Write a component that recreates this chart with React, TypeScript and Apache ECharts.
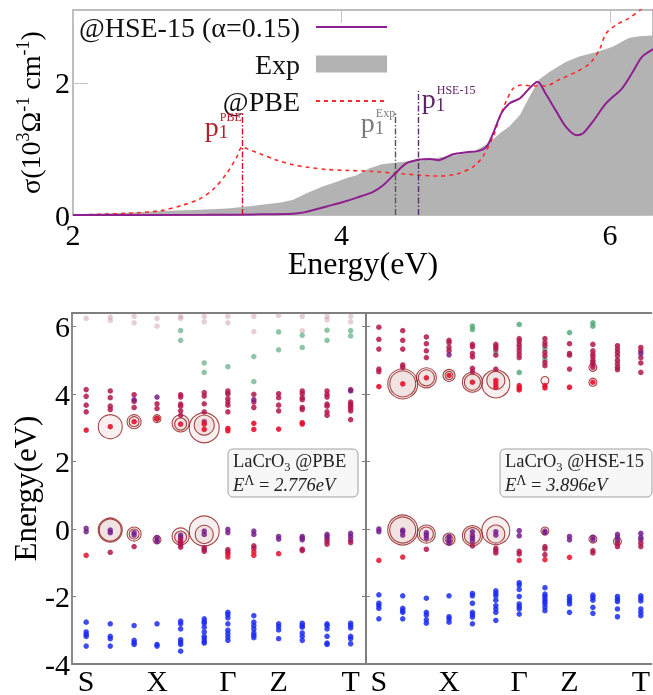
import React, { useEffect, useRef } from 'react';
import * as echarts from 'echarts';

const FONT = '"Liberation Serif", "DejaVu Serif", serif';

// ---------- top panel: optical conductivity ----------
const energyTicks = [2, 4, 6];
const sigmaTicks = [0, 2];
const sigmaExp: number[][] = [
  [2.0, 0.01], [2.4, 0.035], [2.65, 0.06], [2.9, 0.076], [3.15, 0.1], [3.39, 0.15], [3.55, 0.19],
  [3.64, 0.23], [3.74, 0.33], [3.86, 0.43], [3.96, 0.5], [4.05, 0.57], [4.11, 0.6], [4.2, 0.7],
  [4.3, 0.77], [4.48, 0.81], [4.61, 0.83], [4.73, 0.87], [4.86, 0.91], [4.98, 0.96], [5.1, 1.09],
  [5.18, 1.24], [5.25, 1.34], [5.33, 1.52], [5.4, 1.79], [5.47, 2.05], [5.55, 2.17], [5.67, 2.32],
  [5.77, 2.4], [5.9, 2.47], [6.02, 2.55], [6.14, 2.68], [6.22, 2.71], [6.34, 2.72],
];
const sigmaHSE: number[][] = [
  [2.0, 0.0], [3.0, 0.003], [3.4, 0.01], [3.64, 0.02], [3.72, 0.04], [3.79, 0.075], [3.89, 0.13],
  [4.0, 0.19], [4.11, 0.26], [4.235, 0.35], [4.31, 0.45], [4.4, 0.63], [4.48, 0.78], [4.58, 0.84],
  [4.66, 0.85], [4.72, 0.83], [4.83, 0.92], [4.93, 0.95], [5.03, 0.975], [5.08, 1.035], [5.13, 1.24],
  [5.19, 1.54], [5.25, 1.69], [5.33, 1.77], [5.4, 1.92], [5.46, 2.02], [5.52, 1.84], [5.6, 1.57],
  [5.67, 1.34], [5.75, 1.21], [5.8, 1.24], [5.87, 1.41], [5.97, 1.69], [6.09, 1.92], [6.17, 2.17],
  [6.24, 2.4], [6.34, 2.53],
];
const sigmaPBE: number[][] = [
  [2.0, 0.0], [2.4, 0.025], [2.65, 0.065], [2.82, 0.15], [2.95, 0.25], [3.05, 0.4], [3.145, 0.63],
  [3.22, 0.88], [3.26, 1.035], [3.29, 1.01], [3.39, 0.93], [3.52, 0.83], [3.64, 0.76], [3.76, 0.72],
  [3.89, 0.69], [4.05, 0.675], [4.235, 0.66], [4.48, 0.62], [4.73, 0.59], [4.855, 0.62], [4.98, 0.73],
  [5.05, 0.88], [5.13, 1.19], [5.18, 1.49], [5.23, 1.74], [5.28, 1.92], [5.34, 1.97], [5.43, 1.955],
  [5.52, 1.955], [5.62, 2.05], [5.75, 2.17], [5.85, 2.3], [5.92, 2.5], [5.97, 2.75], [6.045, 2.88],
  [6.14, 2.98], [6.24, 3.13], [6.34, 3.3],
];
// peak markers: [energy, top of marker line]
const peakPBE = [3.264, 1.54];
const peakExp = [4.397, 1.54];
const peakHSE = [4.575, 1.88];

// ---------- bottom panels: band structures ----------
const kLabels = ['S', 'X', 'Γ', 'Z', 'T'];
const kLabelIdx = [0, 3, 6, 8, 11];
const kPos = [0, 1.02, 2.03, 3, 4, 5, 6, 7.1, 8.15, 9.15, 10.2, 11.2];
const bandTicks = [-4, -2, 0, 2, 4, 6];

// PBE
const pbeBlue = [
  [-2.76, -3.05, -3.12, -3.18, -3.47], [-2.81, -3.18, -3.25, -3.47], [-2.86, -3.3, -3.37, -3.42],
  [-2.81, -3.42, -3.47], [-2.73, -2.81, -2.96, -3.28, -3.35, -3.42, -3.62],
  [-2.66, -2.74, -2.79, -2.91, -3.05, -3.18, -3.25, -3.33, -3.38],
  [-2.47, -2.54, -2.63, -2.81, -3.0, -3.1, -3.2, -3.3], [-2.57, -2.76, -2.86, -2.96, -3.08, -3.15, -3.22],
  [-2.81, -2.89, -2.99, -3.25], [-2.79, -2.86, -2.91, -3.08, -3.18, -3.3],
  [-2.81, -2.86, -2.96, -3.18, -3.38, -3.42], [-2.79, -2.86, -2.93, -3.18, -3.25, -3.4],
];
const pbeValTop = [
  [0.02, -0.08], [-0.03, -0.11], [-0.11, -0.18], [-0.25, -0.32, -0.37], [-0.18, -0.25], [-0.06, -0.16],
  [-0.01, -0.11], [-0.06, -0.16], [-0.22, -0.3], [-0.22, -0.27, -0.32], [-0.16, -0.22, -0.29], [-0.13, -0.22, -0.32],
];
const pbeValMid = [
  [], [-0.69], [-0.52], [], [-0.32, -0.4, -0.47, -0.54], [-0.55, -0.6, -0.66], [-0.61, -0.68],
  [-0.5, -0.57], [], [-0.6, -0.64], [-0.37, -0.45], [-0.4],
];
const pbeValLow = [[-0.78], [], [], [], [], [], [-0.74, -0.83], [-0.68, -0.78], [-0.73], [], [], []];
const pbeCond = [
  [4.13, 3.93, 3.67, 3.47], [4.09, 3.89, 3.64, 3.54], [3.98, 3.78, 3.6], [3.71, 3.57],
  [3.98, 3.91, 3.7, 3.64, 3.5, 3.37], [4.04, 3.94, 3.71, 3.47, 3.18], [4.09, 4.01, 3.86, 3.76, 3.67, 3.47],
  [3.99, 3.76, 3.6], [4.01, 3.89, 3.67, 3.5], [4.09, 4.01, 3.89, 3.83, 3.6, 3.54],
  [4.09, 3.99, 3.91, 3.7, 3.64, 3.47, 3.37], [4.13, 3.76, 3.7, 3.64, 3.57, 3.5, 3.24],
];
const pbeCondPurple = [[], [], [3.83], [3.91], [], [], [], [3.83], [], [], [], [4.09]];
const pbeCondLow = [[2.93], [3.03], [3.18], [3.27], [3.11], [3.11, 2.95], [2.98, 2.91], [3.13, 2.95], [2.96], [3.15, 3.11], [], []];
const pbeGreen = [[], [], [], [], [5.88, 5.59], [4.92, 4.64], [4.81, 4.01], [5.11, 4.37], [5.84, 5.31], [5.74, 5.38], [5.89, 5.59], [5.88, 5.72]];
const pbeFaint = [[6.24], [6.28, 6.18], [6.3, 6.11], [6.24, 6.01], [6.3, 6.24], [6.3, 6.14], [6.3, 6.11], [6.3, 5.85], [6.33], [6.3, 5.87], [6.3, 6.2], [6.3, 6.14]];
// weight circles: [k index, energy, weight]
const pbeRings = [
  [1, 3.03, 24], [2, 3.18, 14], [2, 3.18, 10], [3, 3.27, 8], [3, 3.27, 5], [4, 3.13, 17], [4, 3.11, 12],
  [5, 3.0, 30], [5, 3.08, 20],
  [1, -0.03, 24], [1, -0.03, 22], [2, -0.15, 14], [2, -0.15, 10], [3, -0.32, 8], [4, -0.22, 17], [4, -0.24, 12],
  [5, -0.06, 30], [5, -0.16, 18],
];

// HSE-15
const hseBlue = [
  [-1.95, -2.2, -2.27, -2.35, -2.66], [-1.98, -2.35, -2.42, -2.47, -2.66], [-2.05, -2.47, -2.55, -2.69, -2.79],
  [-1.98, -2.6, -2.66, -2.76], [-1.91, -1.98, -2.2, -2.47, -2.54, -2.61, -2.81],
  [-1.83, -1.91, -1.98, -2.11, -2.27, -2.37, -2.47, -2.71], [-1.59, -1.66, -1.79, -2.0, -2.22, -2.3, -2.37, -2.52],
  [-1.74, -1.93, -2.0, -2.08, -2.15, -2.22, -2.32, -2.42], [-2.0, -2.08, -2.15, -2.22, -2.47],
  [-1.96, -2.03, -2.11, -2.32, -2.5], [-2.0, -2.08, -2.15, -2.37, -2.6], [-1.98, -2.05, -2.13, -2.37, -2.47, -2.57],
];
const hseValTop = [
  [0.0, -0.08], [-0.03, -0.08, -0.18], [-0.11, -0.18, -0.27], [-0.22, -0.29, -0.35, -0.42], [-0.08, -0.2, -0.27, -0.35],
  [-0.08, -0.18], [-0.05, -0.2], [-0.06, -0.11], [-0.22, -0.32], [-0.25, -0.32], [-0.16, -0.25, -0.35], [-0.13, -0.25, -0.32],
];
const hseValMid = [[], [], [-0.6], [], [-0.5], [-0.57, -0.64, -0.71], [-0.66, -0.74], [-0.52, -0.59, -0.76], [], [-0.64, -0.71], [-0.42, -0.52], [-0.42, -0.52]];
const hseValLow = [[-0.93], [-0.83], [], [], [], [], [-0.93], [-0.91], [-0.84], [], [], []];
const hseCond = [
  [5.98, 5.62, 5.33, 4.74, 4.66], [5.88, 5.59, 5.33, 4.86, 4.79], [5.69, 5.49, 5.28, 5.08], [5.59, 5.52, 5.38, 5.28],
  [5.47, 5.4, 5.2, 5.1, 4.76, 4.66], [5.47, 5.4, 5.33, 5.15, 4.74], [5.64, 5.57, 5.47, 5.38, 5.28, 5.18, 5.08],
  [5.64, 5.52, 5.43, 5.23, 5.13, 4.94, 4.84], [5.49, 5.2, 5.15, 4.74], [5.47, 5.28, 5.18, 5.1, 5.0, 4.94, 4.87, 4.79],
  [5.43, 5.33, 5.23, 5.13, 5.0, 4.89, 4.79, 4.72], [5.38, 5.28, 5.08, 4.92, 4.64],
];
const hseCondPurple = [[], [], [], [5.16], [], [], [], [], [], [], [], [5.2]];
const hseCondLow = [[4.22], [4.3], [4.48], [4.55], [4.35], [4.4, 4.3, 4.2], [4.25, 4.18, 4.12], [4.25, 4.18], [4.2], [4.35], [], []];
const hseGreen = [[], [], [], [], [6.01, 5.91], [5.25], [6.06, 4.64], [5.33, 5.03], [5.82], [6.11, 6.01], [], []];
const hseRings = [
  [1, 4.3, 30], [1, 4.3, 26], [2, 4.48, 20], [2, 4.48, 16], [3, 4.55, 12], [3, 4.55, 8], [4, 4.35, 20], [4, 4.35, 16],
  [5, 4.3, 28], [5, 4.4, 18], [7, 4.4, 8], [9, 4.35, 8], [9, 4.79, 8],
  [1, -0.03, 30], [1, -0.03, 26], [2, -0.15, 18], [2, -0.15, 14], [3, -0.3, 12], [3, -0.3, 8], [4, -0.2, 20], [4, -0.2, 16],
  [5, -0.05, 28], [5, -0.15, 18], [7, -0.06, 8], [9, -0.3, 8], [10, -0.37, 8],
];

const pts = (arr: number[][]) => arr.flatMap((es, k) => es.map((e) => [kPos[k], e]));

function dots(arr: number[][], ax: number, color: string, opacity: number, z = 3) {
  return {
    type: 'scatter', xAxisIndex: ax, yAxisIndex: ax, data: pts(arr), symbolSize: 5.5, silent: true, z,
    itemStyle: { color, opacity },
  };
}
function rings(arr: number[][], ax: number) {
  return {
    type: 'scatter', xAxisIndex: ax, yAxisIndex: ax, silent: true, z: 2,
    data: arr.map((r) => [kPos[r[0]], r[1], r[2]]),
    symbolSize: (v: number[]) => v[2],
    itemStyle: { color: 'rgba(200,140,140,0.16)', borderColor: '#8e1b1b', borderWidth: 1.1 },
  };
}

const tickText = { fontFamily: FONT, fontSize: 30, color: '#000' };
const kLabelFmt = (v: number) => {
  const i = kLabelIdx.findIndex((ix) => Math.abs(kPos[ix] - v) < 1e-6);
  return i >= 0 ? kLabels[i] : '';
};

function buildOption() {
  const topLine = { show: true, onZero: false, lineStyle: { color: '#a8a8a8', width: 1.5 } };
  const botLine = { show: true, onZero: false, lineStyle: { color: '#7f7f7f', width: 1.8 } };
  return {
    animation: false,
    grid: [
      { left: 73, top: 10, right: -1, height: 205 },
      { left: 72, top: 313, width: 294, height: 354 },
      { left: 366, top: 313, width: 288, height: 354 },
    ],
    legend: {
      right: 265, top: 13, orient: 'vertical', align: 'right', padding: 0, itemGap: 9,
      itemWidth: 71, itemHeight: 17, selectedMode: false,
      itemStyle: { opacity: 0 },
      textStyle: { fontFamily: FONT, fontSize: 28, color: '#111', lineHeight: 27, padding: [0, 11, 0, 0] },
      data: [
        { name: '@HSE-15 (α=0.15)' },
        { name: 'Exp', icon: 'rect', itemStyle: { opacity: 1, color: '#b3b3b3' } },
        { name: '@PBE' },
      ],
    },
    xAxis: [
      {
        type: 'value', gridIndex: 0, min: 2, max: 6.32, axisLine: topLine, splitLine: { show: false },
        axisTick: { inside: true, length: 13, customValues: energyTicks, lineStyle: { color: '#c4c4c4' } },
        axisLabel: { ...tickText, margin: 4, customValues: energyTicks },
        name: 'Energy(eV)', nameLocation: 'middle', nameGap: 32, nameMoveOverlap: false,
        nameTextStyle: { fontFamily: FONT, fontSize: 32, color: '#000' },
      },
      {
        type: 'value', gridIndex: 0, min: 2, max: 6.32, position: 'top', axisLine: topLine, splitLine: { show: false },
        axisTick: { inside: true, length: 13, customValues: energyTicks, lineStyle: { color: '#c4c4c4' } },
        axisLabel: { show: false },
      },
      {
        type: 'value', gridIndex: 1, min: -0.6, max: 11.85, axisLine: botLine, splitLine: { show: false },
        axisTick: { show: false },
        axisLabel: { ...tickText, margin: 1, customValues: kLabelIdx.map((i) => kPos[i]), formatter: kLabelFmt },
      },
      {
        type: 'value', gridIndex: 1, min: -0.6, max: 11.85, position: 'top', axisLine: botLine, splitLine: { show: false },
        axisTick: { show: false }, axisLabel: { show: false },
      },
      {
        type: 'value', gridIndex: 2, min: -0.55, max: 11.65, axisLine: botLine, splitLine: { show: false },
        axisTick: { show: false },
        axisLabel: { ...tickText, margin: 1, customValues: kLabelIdx.map((i) => kPos[i]), formatter: kLabelFmt },
      },
      {
        type: 'value', gridIndex: 2, min: -0.55, max: 11.65, position: 'top', axisLine: botLine, splitLine: { show: false },
        axisTick: { show: false }, axisLabel: { show: false },
      },
    ],
    yAxis: [
      {
        type: 'value', gridIndex: 0, min: 0, max: 3.106, axisLine: topLine, splitLine: { show: false },
        axisTick: { inside: true, length: 15, customValues: sigmaTicks, lineStyle: { color: '#c4c4c4' } },
        axisLabel: { ...tickText, margin: 3, customValues: sigmaTicks },
        name: '{n|σ(10}{s|3}{n|Ω}{s|-1}{n| cm}{s|-1}{n|)}', nameLocation: 'middle', nameGap: 17,
        nameTextStyle: {
          rich: {
            n: { fontFamily: FONT, fontSize: 28, color: '#000', lineHeight: 32 },
            s: { fontFamily: FONT, fontSize: 18, color: '#000', lineHeight: 20, verticalAlign: 'top' },
          },
        },
      },
      {
        type: 'value', gridIndex: 0, min: 0, max: 3.106, position: 'right', axisLine: topLine, splitLine: { show: false },
        axisTick: { inside: true, length: 12, customValues: sigmaTicks, lineStyle: { color: '#c4c4c4' } },
        axisLabel: { show: false },
      },
      {
        type: 'value', gridIndex: 1, min: -4, max: 6.4, axisLine: botLine, splitLine: { show: false },
        axisTick: { inside: true, length: 4, customValues: bandTicks, lineStyle: { color: '#7f7f7f' } },
        axisLabel: { ...tickText, margin: 2, customValues: bandTicks },
        name: 'Energy(eV)', nameLocation: 'middle', nameGap: 30,
        nameTextStyle: { fontFamily: FONT, fontSize: 31, color: '#000' },
      },
      {
        type: 'value', gridIndex: 1, min: -4, max: 6.4, position: 'right', axisLine: botLine, splitLine: { show: false },
        axisTick: { inside: true, length: 4, customValues: bandTicks, lineStyle: { color: '#7f7f7f' } },
        axisLabel: { show: false },
      },
      {
        type: 'value', gridIndex: 2, min: -4, max: 6.4, axisLine: botLine, splitLine: { show: false },
        axisTick: { inside: true, length: 4, customValues: bandTicks, lineStyle: { color: '#7f7f7f' } },
        axisLabel: { show: false },
      },
    ],
    series: [
      {
        type: 'line', name: 'Exp', xAxisIndex: 0, yAxisIndex: 0, data: sigmaExp, symbol: 'none', z: 1,
        lineStyle: { width: 0 }, itemStyle: { color: '#b3b3b3' }, areaStyle: { color: '#b3b3b3', opacity: 1 },
      },
      {
        type: 'line', name: '@PBE', xAxisIndex: 0, yAxisIndex: 0, data: sigmaPBE, symbol: 'none', smooth: 0.3, z: 3,
        lineStyle: { color: '#ff2b2b', width: 1.6, type: [4, 4] }, itemStyle: { color: '#ff2b2b' },
      },
      {
        type: 'line', name: '@HSE-15 (α=0.15)', xAxisIndex: 0, yAxisIndex: 0, data: sigmaHSE, symbol: 'none',
        smooth: 0.3, z: 4, lineStyle: { color: '#8e1f8e', width: 2 }, itemStyle: { color: '#8e1f8e' },
      },
      {
        type: 'line', name: 'peaks', xAxisIndex: 0, yAxisIndex: 0, data: [], symbol: 'none', z: 5,
        markLine: {
          silent: true, symbol: ['none', 'none'], label: { show: false }, animation: false,
          data: [
            [{ coord: [peakPBE[0], 0], lineStyle: { color: '#d0102a', width: 1.4, type: [6, 2, 1.5, 2] } }, { coord: [peakPBE[0], peakPBE[1]] }],
            [{ coord: [peakExp[0], 0], lineStyle: { color: '#555555', width: 1.4, type: [6, 2, 1.5, 2] } }, { coord: [peakExp[0], peakExp[1]] }],
            [{ coord: [peakHSE[0], 0], lineStyle: { color: '#5e2a72', width: 1.4, type: [6, 2, 1.5, 2] } }, { coord: [peakHSE[0], peakHSE[1]] }],
          ],
        },
      },
      // PBE band structure
      rings(pbeRings, 2),
      dots(pbeFaint, 2, '#c9929e', 0.45),
      dots(pbeGreen, 2, '#3f9f6c', 0.6),
      dots(pbeBlue, 2, '#1a2cf0', 0.85),
      dots(pbeValTop, 2, '#751d8c', 0.85),
      dots(pbeValMid, 2, '#b0154f', 0.85),
      dots(pbeValLow, 2, '#e5112d', 0.85),
      dots(pbeCond, 2, '#b3154c', 0.85),
      dots(pbeCondPurple, 2, '#7a1f86', 0.85),
      dots(pbeCondLow, 2, '#e5112d', 0.9),
      // HSE band structure
      rings(hseRings, 4),
      dots(hseGreen, 4, '#3f9f6c', 0.75),
      dots(hseBlue, 4, '#1a2cf0', 0.85),
      dots(hseValTop, 4, '#751d8c', 0.85),
      dots(hseValMid, 4, '#b0154f', 0.85),
      dots(hseValLow, 4, '#e5112d', 0.85),
      dots(hseCond, 4, '#b3154c', 0.85),
      dots(hseCondPurple, 4, '#7a1f86', 0.85),
      dots(hseCondLow, 4, '#e5112d', 0.9),
    ],
  };
}

export default function App() {
  const ref = useRef<HTMLDivElement>(null);
  useEffect(() => {
    const el = ref.current;
    if (!el) return;
    const chart = echarts.init(el, undefined, { renderer: 'svg' });
    chart.setOption(buildOption() as any);

    const graphics: any[] = [];
    const peakLabels = [
      { p: peakPBE, sup: 'PBE', color: '#b3202a', dx: -38, dy: 13 },
      { p: peakExp, sup: 'Exp', color: '#7a7a7a', dx: -34, dy: 9 },
      { p: peakHSE, sup: 'HSE-15', color: '#5e2566', dx: 3, dy: 8 },
    ];
    peakLabels.forEach((l) => {
      const [px, py] = chart.convertToPixel({ xAxisIndex: 0, yAxisIndex: 0 }, [l.p[0], l.p[1]]) as number[];
      const rich = {
        p: { fontFamily: FONT, fontSize: 28, fill: l.color, lineHeight: 30 },
        sub: { fontFamily: FONT, fontSize: 19, fill: l.color, lineHeight: 6, verticalAlign: 'bottom', width: 1 },
        sup: { fontFamily: FONT, fontSize: 12, fill: l.color, lineHeight: 14, verticalAlign: 'top' },
      };
      graphics.push({
        type: 'text', x: px + l.dx, y: py + l.dy, silent: true, z: 10,
        style: { text: `{p|p}{sub|1}{sup|${l.sup}}`, rich, align: 'left', verticalAlign: 'middle' },
      });
    });

    const boxRich = {
      n: { fontFamily: FONT, fontSize: 18.5, fill: '#222', lineHeight: 24 },
      sub: { fontFamily: FONT, fontSize: 12.5, fill: '#222', lineHeight: 14, verticalAlign: 'bottom' },
      i: { fontFamily: FONT, fontSize: 18.5, fontStyle: 'italic', fill: '#222', lineHeight: 24 },
      sup: { fontFamily: FONT, fontSize: 14, fill: '#222', lineHeight: 14, verticalAlign: 'top' },
    };
    const boxes = [
      { x: 228, w: 130, text: '{n|LaCrO}{sub|3}{n| @PBE}\n{i|E}{sup|Λ}{n| = }{i|2.776eV}' },
      { x: 500, w: 152, text: '{n|LaCrO}{sub|3}{n| @HSE-15}\n{i|E}{sup|Λ}{n| = }{i|3.896eV}' },
    ];
    boxes.forEach((b) => {
      graphics.push(
        { type: 'rect', silent: true, z: 10, shape: { x: b.x, y: 449, width: b.w, height: 48, r: 5 }, style: { fill: 'rgba(246,246,246,0.9)', stroke: '#a0a0a0', lineWidth: 1 } },
        { type: 'text', silent: true, z: 11, x: b.x + 5, y: 473, style: { text: b.text, rich: boxRich, align: 'left', verticalAlign: 'middle' } },
      );
    });
    chart.setOption({ graphic: graphics });
    return () => chart.dispose();
  }, []);
  return <div ref={ref} style={{ position: 'fixed', left: 0, top: 0, width: 653, height: 695 }} />;
}
